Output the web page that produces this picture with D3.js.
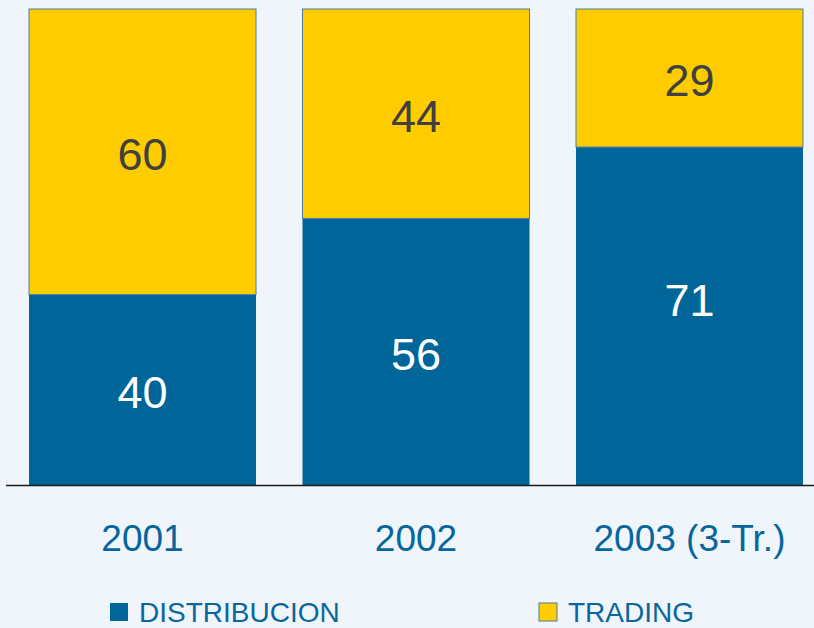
<!DOCTYPE html>
<html>
<head>
<meta charset="utf-8">
<script src="https://cdn.jsdelivr.net/npm/d3@7"></script>
<style>
  body { margin: 0; background: #eff5fb; }
  svg { display: block; font-family: Arial, "Liberation Sans", sans-serif; }
</style>
</head>
<body>
<script>
// stacked 100% bars
var years = ["2001", "2002", "2003 (3-Tr.)"];
var distribucion = [40, 56, 71];
var trading = [60, 44, 29];
var seriesNames = ["DISTRIBUCION", "TRADING"];
var colors = ["#006598", "#ffcc00"];

var width = 814, height = 628;

var svg = d3.select("body").append("svg")
  .attr("width", width)
  .attr("height", height);

var x = d3.scaleBand()
  .domain(years)
  .range([29, 803])
  .paddingInner(0.17)
  .paddingOuter(0);

var y = d3.scaleLinear()
  .domain([0, 100])
  .range([485, 9]);

var rows = years.map(function(yr, i) {
  return { year: yr, DISTRIBUCION: distribucion[i], TRADING: trading[i] };
});

var stack = d3.stack().keys(seriesNames);
var layers = stack(rows);

var g = svg.selectAll("g.layer")
  .data(layers)
  .enter()
  .append("g")
  .attr("class", "layer")
  .style("fill", function(d, i) { return colors[i]; });

g.selectAll("rect")
  .data(function(d) { return d; })
  .enter()
  .append("rect")
  .attr("x", function(d) { return x(d.data.year); })
  .attr("y", function(d) { return y(d[1]); })
  .attr("width", x.bandwidth())
  .attr("height", function(d) { return y(d[0]) - y(d[1]); })
  .style("stroke", function() {
    return this.parentNode.__data__.key == "TRADING" ? "#4a7fa3" : "none";
  })
  .style("stroke-width", 1);

// value labels in the middle of each segment
// (the big blue one in the last bar sits a bit higher in the original)
g.selectAll("text")
  .data(function(d) { return d; })
  .enter()
  .append("text")
  .attr("x", function(d) { return x(d.data.year) + x.bandwidth() / 2; })
  .attr("y", function(d, i) {
    var mid = (y(d[0]) + y(d[1])) / 2;
    if (this.parentNode.__data__.key == "DISTRIBUCION" && i == 2) mid -= 18;
    return mid;
  })
  .attr("dy", "0.4em")
  .attr("text-anchor", "middle")
  .style("font-size", "45px")
  .style("fill", function() {
    return this.parentNode.__data__.key == "TRADING" ? "#404040" : "#ffffff";
  })
  .text(function(d) { return d[1] - d[0]; });

// baseline
svg.append("line")
  .attr("x1", 6).attr("x2", width)
  .attr("y1", y(0) + 0.5).attr("y2", y(0) + 0.5)
  .style("stroke", "#1a1a1a")
  .style("stroke-width", 1.5);

// category labels
svg.selectAll("text.cat")
  .data(years)
  .enter()
  .append("text")
  .attr("class", "cat")
  .attr("x", function(d) { return x(d) + x.bandwidth() / 2; })
  .attr("y", 551)
  .attr("text-anchor", "middle")
  .style("font-size", "37px")
  .style("fill", "#06669c")
  .text(function(d) { return d; });

// legend
var legendX = [110, 539];
var leg = svg.selectAll("g.legend")
  .data(seriesNames)
  .enter()
  .append("g")
  .attr("class", "legend")
  .attr("transform", function(d, i) { return "translate(" + legendX[i] + ",603)"; });

leg.append("rect")
  .attr("width", 18)
  .attr("height", 18)
  .style("fill", function(d, i) { return colors[i]; })
  .style("stroke", "#4a7fa3")
  .style("stroke-width", function(d, i) { return i == 1 ? 1 : 0; });

leg.append("text")
  .attr("x", 29)
  .attr("y", 19)
  .style("font-size", "28px")
  .style("fill", "#0a679c")
  .text(function(d) { return d; });
</script>
</body>
</html>
